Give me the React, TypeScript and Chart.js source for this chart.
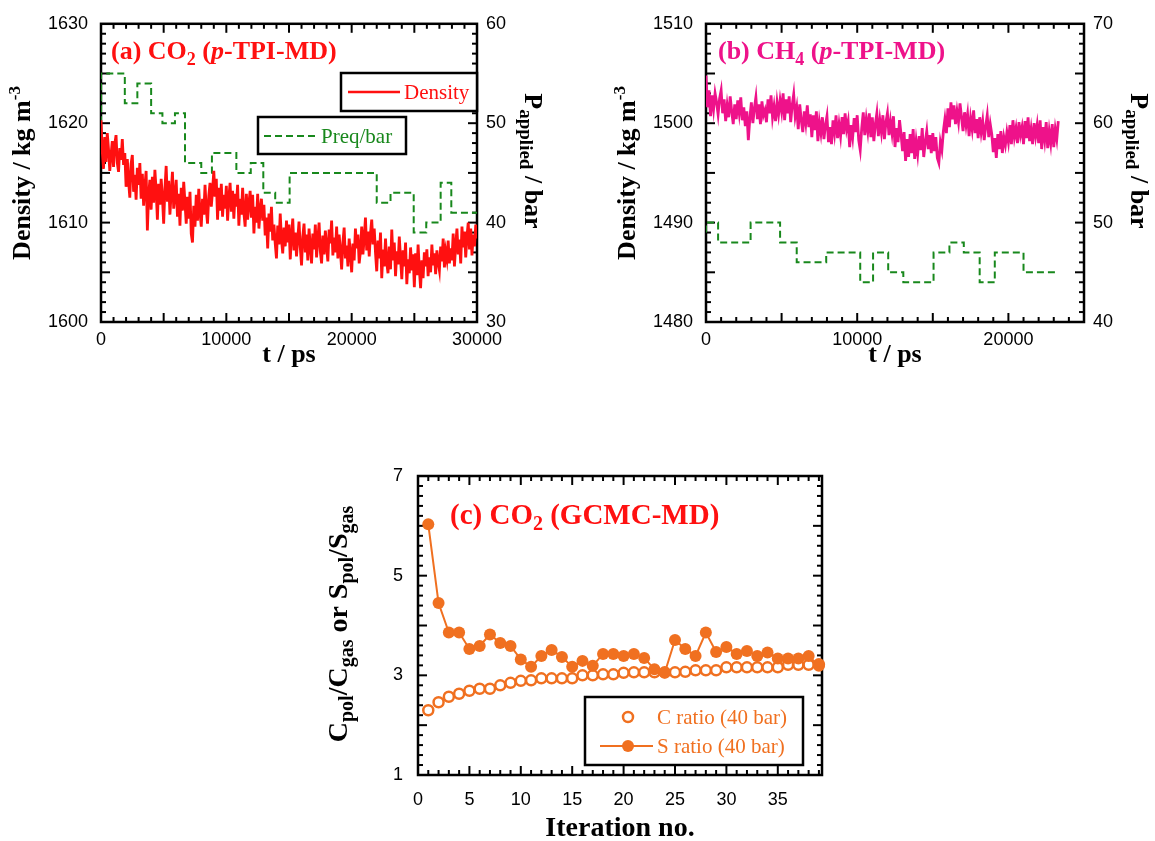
import React, { useEffect, useRef } from "react";
import { Chart, registerables } from "chart.js";
Chart.register(...registerables);

const W = 1155;
const H = 841;
const TICK_FONT = '"Liberation Sans", Arial, sans-serif';
const SERIF = '"Liberation Serif", "Times New Roman", serif';
const RED = "#FF1010";
const GREEN = "#18881C";
const MAGENTA = "#EE128A";
const ORANGE = "#F07020";

// ---------- (a) CO2 p-TPI-MD ----------
const A_DT = 100; // ps between density samples
const densityA = [
  1620.3, 1617.2, 1615.4, 1618.6, 1616.1, 1619.0, 1617.4, 1615.2, 1616.8, 1618.2,
  1615.6, 1617.9, 1618.8, 1616.0, 1615.1, 1617.5, 1616.3, 1618.4, 1615.8, 1617.0,
  1613.6, 1616.4, 1614.2, 1612.5, 1615.9, 1616.8, 1613.1, 1614.8, 1612.3, 1615.5,
  1613.8, 1616.0, 1612.4, 1614.9, 1611.7, 1613.6, 1615.2, 1609.2, 1612.8, 1614.3,
  1611.3, 1614.6, 1612.0, 1615.3, 1613.2, 1610.3, 1613.9, 1611.8, 1614.4, 1612.6,
  1609.9, 1613.4, 1615.7, 1612.1, 1614.2, 1610.8, 1613.0, 1615.1, 1611.4, 1612.7,
  1614.3, 1610.6, 1612.9, 1609.7, 1613.5, 1611.2, 1614.1, 1612.0, 1609.9, 1612.6,
  1610.4, 1613.1, 1608.9, 1608.0, 1611.7, 1609.6, 1612.8, 1610.2, 1613.4, 1611.0,
  1609.6, 1612.4, 1610.8, 1613.8, 1611.3, 1609.9, 1612.7, 1614.0, 1611.6, 1613.2,
  1615.2, 1612.6, 1614.4, 1610.3, 1613.5, 1611.2, 1613.9, 1610.6, 1612.8, 1611.4,
  1613.7, 1610.2, 1612.5, 1614.0, 1611.1, 1613.2, 1610.4, 1612.9, 1611.6, 1613.8,
  1609.7, 1612.4, 1610.8, 1613.5, 1611.0, 1609.6, 1612.9, 1610.3, 1611.9, 1613.2,
  1610.5, 1612.8, 1608.9, 1611.6, 1610.0, 1612.9, 1609.4, 1611.3, 1612.4, 1610.2,
  1611.8, 1608.7, 1610.5, 1607.4, 1610.9, 1609.1, 1611.6, 1608.2, 1609.8, 1607.9,
  1606.4, 1609.7, 1607.8, 1610.9, 1608.3, 1606.9, 1609.5, 1607.6, 1610.2, 1608.0,
  1609.8, 1606.3, 1608.7, 1610.4, 1607.2, 1609.0, 1606.6, 1608.4, 1610.1, 1607.5,
  1605.7, 1608.6, 1609.9, 1607.0, 1608.8, 1606.2, 1609.4, 1607.6, 1605.9, 1608.9,
  1607.3, 1609.8, 1606.5, 1608.3, 1610.0, 1607.1, 1605.9, 1608.7, 1606.8, 1609.2,
  1607.6, 1606.1, 1609.3, 1607.9, 1610.2, 1606.7, 1608.5, 1607.0, 1609.6, 1606.4,
  1608.8, 1607.2, 1605.3, 1608.0, 1609.5, 1606.4, 1607.7, 1605.6, 1608.4, 1606.9,
  1605.0, 1607.9, 1606.2, 1609.4, 1607.4, 1608.8, 1605.9, 1607.1, 1609.6, 1606.8,
  1608.4, 1610.5, 1607.2, 1609.1, 1606.6, 1608.9, 1610.3, 1607.8, 1609.4, 1607.0,
  1605.1, 1608.2, 1606.4, 1609.0, 1604.4, 1607.3, 1605.6, 1608.4, 1606.0, 1604.9,
  1607.6, 1605.3, 1609.3, 1606.2, 1608.0, 1604.6, 1607.1, 1605.8, 1608.6, 1606.4,
  1604.3, 1607.2, 1605.6, 1608.0, 1603.8, 1606.3, 1604.9, 1607.5, 1605.2, 1606.8,
  1603.5, 1606.9, 1604.7, 1607.8, 1605.3, 1603.4, 1606.2, 1604.4, 1607.0, 1605.6,
  1607.3, 1604.6, 1606.5, 1605.0, 1607.8, 1605.7, 1606.9, 1604.8, 1607.2, 1606.0,
  1605.2, 1607.6, 1606.1, 1608.4, 1605.5, 1607.1, 1606.3, 1608.2, 1605.9, 1607.4,
  1606.2, 1608.9, 1605.6, 1607.7, 1609.4, 1606.8, 1608.3, 1605.9, 1609.6, 1607.5,
  1609.1, 1606.5, 1608.6, 1610.0, 1607.3, 1609.4, 1606.7, 1608.8, 1607.6, 1609.8,
  1608.4,
];
const preqATimes = [0, 1900, 2900, 4000, 4900, 5900, 6700, 8000, 8850, 10800, 11950, 12950, 13900, 15050, 22000, 23100, 24950, 25950, 27100, 27950, 28950, 30000];
const preqAValues = [50, 55, 52, 54, 51, 50, 51, 46, 45, 47, 45, 46, 43, 42, 45, 42, 43, 39, 40, 44, 41, 41];
const xTicksA = [0, 10000, 20000, 30000];
const yTicksA = [1600, 1610, 1620, 1630];
const y2TicksA = [30, 40, 50, 60];

// ---------- (b) CH4 p-TPI-MD ----------
const B_DT = 100;
const densityB = [
  1504.8, 1501.6, 1503.3, 1500.7, 1502.8, 1501.4, 1503.0, 1502.1, 1500.9, 1502.5,
  1503.3, 1501.0, 1502.4, 1500.2, 1501.8, 1500.6, 1502.7, 1501.2, 1499.9, 1501.9,
  1500.4, 1502.3, 1501.0, 1502.6, 1500.3, 1501.6, 1499.7, 1501.2, 1498.3, 1500.5,
  1502.1, 1500.0, 1501.5, 1502.6, 1500.4, 1501.9, 1499.9, 1502.2, 1500.8, 1501.3,
  1500.1, 1502.4, 1501.0, 1502.8, 1500.6, 1501.7, 1500.2, 1502.1, 1500.9, 1502.3,
  1501.2, 1503.0, 1500.3, 1502.4, 1501.0, 1502.7, 1500.1, 1501.8, 1502.9, 1500.7,
  1501.6, 1499.4, 1501.9, 1500.3, 1499.1, 1501.2, 1500.0, 1501.8, 1499.6, 1500.9,
  1498.6, 1500.8, 1499.3, 1501.2, 1498.2, 1500.1, 1499.0, 1500.6, 1498.4, 1499.8,
  1500.7, 1498.1, 1499.6, 1497.9, 1500.3, 1499.0, 1500.8, 1498.5, 1499.9, 1498.7,
  1500.6, 1498.9, 1501.0, 1499.4, 1500.2, 1497.6, 1499.8, 1498.6, 1500.5, 1499.1,
  1500.8, 1498.3, 1497.3, 1499.5, 1501.1, 1498.8, 1500.4, 1499.2, 1501.0, 1498.6,
  1500.6, 1498.2, 1499.9, 1501.0, 1498.7, 1500.3, 1499.1, 1500.8, 1498.4, 1500.1,
  1501.0, 1498.8, 1500.2, 1499.0, 1500.7, 1497.6, 1499.5, 1498.1, 1500.3, 1498.9,
  1497.2, 1499.1, 1496.2, 1498.4, 1496.6, 1498.9, 1497.0, 1499.4, 1496.4, 1498.2,
  1496.9, 1498.7, 1497.3, 1499.5, 1496.6, 1498.1, 1499.2, 1497.4, 1498.8, 1497.0,
  1499.0, 1497.2, 1498.6, 1496.5, 1496.0, 1498.1, 1497.3, 1499.2, 1500.4, 1499.0,
  1501.5, 1499.6, 1502.1, 1500.4, 1501.8, 1499.9, 1501.2, 1500.1, 1502.0, 1500.6,
  1499.2, 1501.1, 1499.8, 1500.9, 1498.7, 1500.5, 1499.4, 1501.3, 1499.0, 1500.4,
  1498.5, 1500.6, 1499.1, 1500.2, 1498.3, 1499.7, 1500.8, 1498.6, 1499.9, 1498.9,
  1497.1, 1498.5, 1496.5, 1498.9, 1497.4, 1499.2, 1497.0, 1498.6, 1497.8, 1499.1,
  1498.1, 1499.8, 1497.9, 1500.3, 1498.6, 1499.5, 1498.0, 1500.1, 1498.8, 1499.6,
  1497.9, 1500.2, 1498.5, 1500.6, 1498.2, 1499.4, 1497.9, 1500.0, 1498.7, 1499.8,
  1498.0, 1500.3, 1497.4, 1499.6, 1498.3, 1500.1, 1497.5, 1499.2, 1498.0, 1499.9,
  1497.6, 1499.4, 1498.4, 1500.2,
];
const preqBTimes = [0, 800, 2950, 4900, 6000, 7950, 10200, 11050, 12050, 13050, 15050, 16100, 17050, 18100, 19100, 21000, 22150, 23300];
const preqBValues = [49, 50, 48, 50, 48, 46, 47, 44, 47, 45, 44, 47, 48, 47, 44, 47, 45, 45];
const xTicksB = [0, 10000, 20000];
const yTicksB = [1480, 1490, 1500, 1510];
const y2TicksB = [40, 50, 60, 70];

// ---------- (c) CO2 GCMC-MD ----------
const iterations = [1, 2, 3, 4, 5, 6, 7, 8, 9, 10, 11, 12, 13, 14, 15, 16, 17, 18, 19, 20, 21, 22, 23, 24, 25, 26, 27, 28, 29, 30, 31, 32, 33, 34, 35, 36, 37, 38, 39];
const cRatio = [2.30, 2.46, 2.57, 2.63, 2.69, 2.73, 2.73, 2.80, 2.85, 2.89, 2.90, 2.94, 2.94, 2.94, 2.94, 3.00, 3.00, 3.02, 3.02, 3.05, 3.06, 3.06, 3.06, 3.06, 3.06, 3.07, 3.10, 3.10, 3.10, 3.16, 3.16, 3.16, 3.16, 3.16, 3.16, 3.21, 3.21, 3.21, 3.22];
const sRatio = [6.03, 4.45, 3.86, 3.86, 3.53, 3.59, 3.82, 3.65, 3.59, 3.32, 3.17, 3.39, 3.51, 3.37, 3.17, 3.29, 3.19, 3.43, 3.43, 3.39, 3.43, 3.35, 3.12, 3.05, 3.71, 3.53, 3.39, 3.86, 3.47, 3.57, 3.43, 3.49, 3.39, 3.46, 3.34, 3.34, 3.34, 3.39, 3.19];
const xTicksC = [0, 5, 10, 15, 20, 25, 30, 35];
const yTicksC = [1, 3, 5, 7];

type Seg = { t: string; size: number; bold?: boolean; italic?: boolean; dy?: number };

function fontOf(s: Seg) {
  return `${s.italic ? "italic " : ""}${s.bold ? "bold " : ""}${s.size}px ${SERIF}`;
}

function drawRich(ctx: CanvasRenderingContext2D, segs: Seg[], x: number, y: number, rot: number, color: string, align: "left" | "center") {
  ctx.save();
  ctx.translate(x, y);
  ctx.rotate(rot);
  ctx.fillStyle = color;
  ctx.textBaseline = "alphabetic";
  ctx.textAlign = "left";
  let total = 0;
  for (const s of segs) {
    ctx.font = fontOf(s);
    total += ctx.measureText(s.t).width;
  }
  let cx = align === "center" ? -total / 2 : 0;
  for (const s of segs) {
    ctx.font = fontOf(s);
    ctx.fillText(s.t, cx, s.dy ?? 0);
    cx += ctx.measureText(s.t).width;
  }
  ctx.restore();
}

type AxisSpec = { min: number; max: number; minor: number; major: number };
type DecoSpec = { x: AxisSpec; y: AxisSpec; draw: (ctx: CanvasRenderingContext2D) => void };

function isMult(v: number, m: number) {
  const r = v / m;
  return Math.abs(r - Math.round(r)) < 1e-6;
}

function decoPlugin(spec: DecoSpec) {
  return {
    id: "deco",
    beforeDatasetsDraw(chart: any) {
      const { ctx, chartArea: a, scales } = chart;
      const xs = scales.x;
      const ys = scales.y;
      ctx.save();
      ctx.strokeStyle = "#000";
      ctx.lineWidth = 2;
      ctx.lineCap = "butt";
      const seg = (x1: number, y1: number, x2: number, y2: number) => {
        ctx.beginPath();
        ctx.moveTo(x1, y1);
        ctx.lineTo(x2, y2);
        ctx.stroke();
      };
      const nx = Math.floor((spec.x.max - spec.x.min) / spec.x.minor + 1e-6);
      for (let i = 1; i <= nx; i++) {
        const v = spec.x.min + i * spec.x.minor;
        if (v >= spec.x.max - 1e-9) break;
        const len = isMult(v, spec.x.major) ? 9 : 5;
        const px = xs.getPixelForValue(v);
        seg(px, a.bottom, px, a.bottom - len);
        seg(px, a.top, px, a.top + len);
      }
      const ny = Math.floor((spec.y.max - spec.y.min) / spec.y.minor + 1e-6);
      for (let i = 1; i <= ny; i++) {
        const v = spec.y.min + i * spec.y.minor;
        if (v >= spec.y.max - 1e-9) break;
        const len = isMult(v, spec.y.major) ? 9 : 5;
        const py = ys.getPixelForValue(v);
        seg(a.left, py, a.left + len, py);
        seg(a.right, py, a.right - len, py);
      }
      ctx.lineWidth = 2.5;
      ctx.strokeRect(a.left, a.top, a.right - a.left, a.bottom - a.top);
      ctx.restore();
    },
    afterDatasetsDraw(chart: any) {
      spec.draw(chart.ctx);
    },
  };
}

function xAxis(min: number, max: number, ticks: number[], pad: number, height: number) {
  return {
    type: "linear",
    position: "bottom",
    min,
    max,
    grid: { display: false, drawTicks: false },
    border: { display: false },
    ticks: {
      padding: pad,
      color: "#000",
      autoSkip: false,
      maxRotation: 0,
      font: { family: TICK_FONT, size: 18 },
      callback: (v: any) => String(v),
    },
    afterBuildTicks: (s: any) => {
      s.ticks = ticks.map((value) => ({ value }));
    },
    afterFit: (s: any) => {
      s.height = height;
    },
  };
}

function yAxis(position: string, min: number, max: number, ticks: number[], pad: number, width: number) {
  return {
    type: "linear",
    position,
    min,
    max,
    grid: { display: false, drawTicks: false },
    border: { display: false },
    ticks: {
      padding: pad,
      color: "#000",
      autoSkip: false,
      font: { family: TICK_FONT, size: 18 },
      callback: (v: any) => String(v),
    },
    afterBuildTicks: (s: any) => {
      s.ticks = ticks.map((value) => ({ value }));
    },
    afterFit: (s: any) => {
      s.width = width;
    },
  };
}

function baseOptions(padding: any, scales: any) {
  return {
    responsive: false,
    animation: false,
    devicePixelRatio: 1,
    layout: { autoPadding: false, padding },
    plugins: { legend: { display: false }, tooltip: { enabled: false } },
    scales,
  };
}

function drawBox(ctx: CanvasRenderingContext2D, x: number, y: number, w: number, h: number) {
  ctx.save();
  ctx.fillStyle = "#fff";
  ctx.fillRect(x, y, w, h);
  ctx.strokeStyle = "#000";
  ctx.lineWidth = 2.5;
  ctx.strokeRect(x, y, w, h);
  ctx.restore();
}

function line(ctx: CanvasRenderingContext2D, x1: number, y1: number, x2: number, y2: number, color: string, width: number, dash: number[] = []) {
  ctx.save();
  ctx.strokeStyle = color;
  ctx.lineWidth = width;
  ctx.setLineDash(dash);
  ctx.beginPath();
  ctx.moveTo(x1, y1);
  ctx.lineTo(x2, y2);
  ctx.stroke();
  ctx.restore();
}

function text(ctx: CanvasRenderingContext2D, s: string, x: number, y: number, color: string, size: number) {
  ctx.save();
  ctx.font = `${size}px ${SERIF}`;
  ctx.fillStyle = color;
  ctx.textAlign = "left";
  ctx.textBaseline = "alphabetic";
  ctx.fillText(s, x, y);
  ctx.restore();
}

function buildA() {
  const spec: DecoSpec = {
    x: { min: 0, max: 30000, minor: 1000, major: 5000 },
    y: { min: 1600, max: 1630, minor: 1, major: 5 },
    draw: (ctx) => {
      drawRich(ctx, [{ t: "(a) CO", size: 26, bold: true }, { t: "2", size: 18, bold: true, dy: 6 }, { t: " (", size: 26, bold: true }, { t: "p", size: 26, bold: true, italic: true }, { t: "-TPI-MD)", size: 26, bold: true }], 111, 59, 0, RED, "left");
      drawRich(ctx, [{ t: "Density / kg m", size: 26, bold: true }, { t: "-3", size: 17, bold: true, dy: -10 }], 30, 173, -Math.PI / 2, "#000", "center");
      drawRich(ctx, [{ t: "P", size: 26, bold: true }, { t: "applied", size: 19, bold: true, dy: 5 }, { t: " / bar", size: 26, bold: true }], 525, 161, Math.PI / 2, "#000", "center");
      drawRich(ctx, [{ t: "t / ps", size: 26, bold: true }], 289, 362, 0, "#000", "center");
      drawBox(ctx, 341, 73, 136, 38);
      line(ctx, 348, 92, 400, 92, RED, 2.5);
      text(ctx, "Density", 404, 99, RED, 21);
      drawBox(ctx, 258, 117, 148, 37);
      line(ctx, 264, 136, 318, 136, GREEN, 2, [7, 4]);
      text(ctx, "Preq/bar", 321, 143, GREEN, 21);
    },
  };
  return {
    type: "line",
    data: {
      datasets: [
        { label: "Density", data: densityA.map((y, i) => ({ x: i * A_DT, y })), yAxisID: "y", borderColor: RED, borderWidth: 2.8, pointRadius: 0, tension: 0 },
        { label: "Preq/bar", data: preqATimes.map((x, i) => ({ x, y: preqAValues[i] })), yAxisID: "y2", borderColor: GREEN, borderWidth: 2, borderDash: [7, 4], stepped: "after", pointRadius: 0 },
      ],
    },
    options: baseOptions({ left: 0, right: W - 477 - 60, top: 23, bottom: H - 322 - 40 }, {
      x: xAxis(0, 30000, xTicksA, 7, 40),
      y: yAxis("left", 1600, 1630, yTicksA, 13, 101),
      y2: yAxis("right", 30, 60, y2TicksA, 9, 60),
    }),
    plugins: [decoPlugin(spec)],
  };
}

function buildB() {
  const L = 706;
  const R = 1084;
  const spec: DecoSpec = {
    x: { min: 0, max: 25000, minor: 1000, major: 5000 },
    y: { min: 1480, max: 1510, minor: 1, major: 5 },
    draw: (ctx) => {
      drawRich(ctx, [{ t: "(b) CH", size: 26, bold: true }, { t: "4", size: 18, bold: true, dy: 6 }, { t: " (", size: 26, bold: true }, { t: "p", size: 26, bold: true, italic: true }, { t: "-TPI-MD)", size: 26, bold: true }], 718, 59, 0, MAGENTA, "left");
      drawRich(ctx, [{ t: "Density / kg m", size: 26, bold: true }, { t: "-3", size: 17, bold: true, dy: -10 }], 635, 173, -Math.PI / 2, "#000", "center");
      drawRich(ctx, [{ t: "P", size: 26, bold: true }, { t: "applied", size: 19, bold: true, dy: 5 }, { t: " / bar", size: 26, bold: true }], 1131, 161, Math.PI / 2, "#000", "center");
      drawRich(ctx, [{ t: "t / ps", size: 26, bold: true }], (L + R) / 2, 362, 0, "#000", "center");
    },
  };
  return {
    type: "line",
    data: {
      datasets: [
        { label: "Density", data: densityB.map((y, i) => ({ x: i * B_DT, y })), yAxisID: "y", borderColor: MAGENTA, borderWidth: 2.8, pointRadius: 0, tension: 0 },
        { label: "Preq/bar", data: preqBTimes.map((x, i) => ({ x, y: preqBValues[i] })), yAxisID: "y2", borderColor: GREEN, borderWidth: 2, borderDash: [7, 4], stepped: "after", pointRadius: 0 },
      ],
    },
    options: baseOptions({ left: L - 101, right: W - R - 60, top: 23, bottom: H - 322 - 40 }, {
      x: xAxis(0, 25000, xTicksB, 7, 40),
      y: yAxis("left", 1480, 1510, yTicksB, 13, 101),
      y2: yAxis("right", 40, 70, y2TicksB, 9, 60),
    }),
    plugins: [decoPlugin(spec)],
  };
}

function buildC() {
  const L = 418;
  const R = 822;
  const spec: DecoSpec = {
    x: { min: 0, max: 39.3, minor: 1, major: 5 },
    y: { min: 1, max: 7, minor: 0.2, major: 1 },
    draw: (ctx) => {
      drawRich(ctx, [{ t: "(c) CO", size: 29, bold: true }, { t: "2", size: 20, bold: true, dy: 6 }, { t: " (GCMC-MD)", size: 29, bold: true }], 450, 524, 0, RED, "left");
      drawRich(ctx, [
        { t: "C", size: 28, bold: true }, { t: "pol", size: 20, bold: true, dy: 6 },
        { t: "/C", size: 28, bold: true }, { t: "gas", size: 20, bold: true, dy: 6 },
        { t: " or S", size: 28, bold: true }, { t: "pol", size: 20, bold: true, dy: 6 },
        { t: "/S", size: 28, bold: true }, { t: "gas", size: 20, bold: true, dy: 6 },
      ], 347, 624, -Math.PI / 2, "#000", "center");
      drawRich(ctx, [{ t: "Iteration no.", size: 28, bold: true }], (L + R) / 2, 836, 0, "#000", "center");
      drawBox(ctx, 585, 697, 218, 68);
      ctx.save();
      ctx.strokeStyle = ORANGE;
      ctx.fillStyle = "#fff";
      ctx.lineWidth = 2.5;
      ctx.beginPath();
      ctx.arc(628, 717, 5, 0, Math.PI * 2);
      ctx.fill();
      ctx.stroke();
      ctx.restore();
      text(ctx, "C ratio (40 bar)", 657, 724, ORANGE, 21);
      line(ctx, 600, 746, 653, 746, ORANGE, 2);
      ctx.save();
      ctx.fillStyle = ORANGE;
      ctx.beginPath();
      ctx.arc(628, 746, 6, 0, Math.PI * 2);
      ctx.fill();
      ctx.restore();
      text(ctx, "S ratio (40 bar)", 657, 753, ORANGE, 21);
    },
  };
  return {
    type: "line",
    data: {
      datasets: [
        { label: "S ratio (40 bar)", data: iterations.map((x, i) => ({ x, y: sRatio[i] })), borderColor: ORANGE, backgroundColor: ORANGE, borderWidth: 2, pointRadius: 6, pointBorderWidth: 0, pointBackgroundColor: ORANGE, tension: 0, clip: false },
        { label: "C ratio (40 bar)", data: iterations.map((x, i) => ({ x, y: cRatio[i] })), showLine: false, borderColor: ORANGE, pointBorderColor: ORANGE, pointBackgroundColor: "#fff", pointRadius: 5, pointBorderWidth: 2.5, clip: false },
      ],
    },
    options: baseOptions({ left: L - 100, right: W - R, top: 476, bottom: H - 775 - 40 }, {
      x: xAxis(0, 39.3, xTicksC, 14, 40),
      y: yAxis("left", 1, 7, yTicksC, 15, 100),
    }),
    plugins: [decoPlugin(spec)],
  };
}

function Panel({ build }: { build: () => any }) {
  const ref = useRef<HTMLCanvasElement>(null);
  useEffect(() => {
    const chart = new Chart(ref.current as HTMLCanvasElement, build());
    return () => chart.destroy();
  }, []);
  return <canvas ref={ref} width={W} height={H} style={{ position: "absolute", left: 0, top: 0, width: W, height: H }} />;
}

export default function App() {
  return (
    <div style={{ position: "absolute", left: 0, top: 0, width: W, height: H, background: "#fff" }}>
      <Panel build={buildA} />
      <Panel build={buildB} />
      <Panel build={buildC} />
    </div>
  );
}
